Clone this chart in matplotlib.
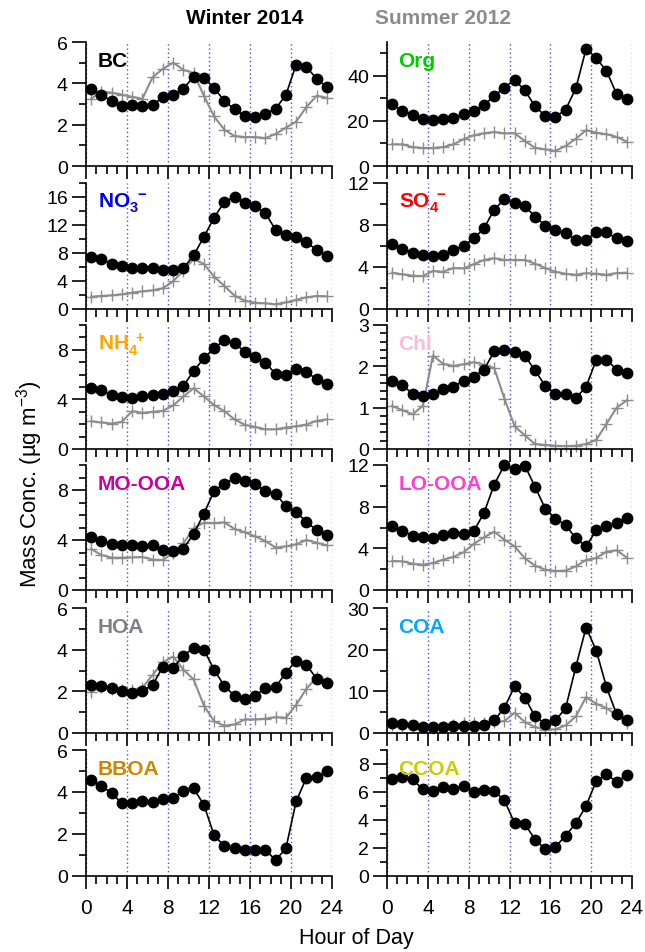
import numpy as np
import matplotlib
matplotlib.use('Agg')
import matplotlib.pyplot as plt
from matplotlib.ticker import MultipleLocator

plt.rcParams['font.family'] = 'Liberation Sans'
plt.rcParams['mathtext.fontset'] = 'custom'
plt.rcParams['mathtext.rm'] = 'Liberation Sans'
plt.rcParams['mathtext.bf'] = 'Liberation Sans:bold'

hours = np.arange(0.5, 24, 1.0)

# winter 2014 (black) and summer 2012 (grey) diurnal cycles
bc_w = [3.71, 3.44, 3.15, 2.89, 2.94, 2.9, 2.94, 3.34, 3.44, 3.74, 4.32, 4.26,
        3.77, 3.15, 2.74, 2.42, 2.39, 2.53, 2.77, 3.44, 4.9, 4.79, 4.23, 3.81]
bc_s = [3.25, 3.6, 3.55, 3.45, 3.35, 3.25, 4.3, 4.7, 5.0, 4.65, 4.5, 3.4,
        2.4, 1.75, 1.45, 1.4, 1.4, 1.35, 1.55, 1.85, 2.15, 2.85, 3.4, 3.3]
org_w = [27.3, 24.6, 22.8, 21.0, 20.3, 20.7, 21.5, 23.1, 24.3, 27.0, 31.1, 34.8,
         38.2, 33.5, 26.5, 22.2, 21.8, 25.0, 34.5, 51.9, 47.9, 42.1, 31.9, 29.6]
org_s = [9.6, 9.6, 8.4, 8.0, 8.0, 8.4, 9.6, 11.9, 13.6, 14.5, 15.1, 14.5,
         14.5, 11.1, 8.1, 7.4, 6.7, 8.9, 12.1, 15.9, 14.8, 14.1, 12.9, 10.8]
no3_w = [7.38, 7.1, 6.48, 6.1, 5.8, 5.9, 5.8, 5.57, 5.57, 5.8, 7.67, 10.3,
         13.05, 15.3, 16.0, 15.2, 14.7, 13.7, 11.3, 10.6, 10.3, 9.57, 8.43, 7.62]
no3_s = [1.76, 1.86, 1.95, 2.1, 2.33, 2.52, 2.67, 2.95, 3.95, 5.48, 7.14, 6.43,
         4.62, 3.29, 1.9, 1.19, 0.9, 0.81, 0.67, 0.95, 1.29, 1.67, 1.86, 1.81]
so4_w = [6.18, 5.76, 5.38, 5.12, 5.02, 5.18, 5.6, 6.02, 6.72, 7.68, 9.47, 10.43,
         10.1, 9.8, 8.8, 7.94, 7.52, 7.2, 6.56, 6.59, 7.3, 7.3, 6.72, 6.5]
so4_s = [3.46, 3.3, 3.17, 3.14, 3.62, 3.55, 3.9, 3.87, 4.26, 4.67, 4.83, 4.67,
         4.67, 4.67, 4.32, 3.9, 3.55, 3.36, 3.26, 3.42, 3.36, 3.26, 3.42, 3.46]
nh4_w = [4.95, 4.73, 4.32, 4.16, 4.08, 4.24, 4.32, 4.46, 4.7, 5.08, 6.3, 7.3,
         8.14, 8.76, 8.54, 7.84, 7.43, 6.97, 6.05, 6.0, 6.49, 6.22, 5.62, 5.22]
nh4_s = [2.24, 2.14, 2.05, 2.19, 3.05, 2.92, 3.0, 3.08, 3.51, 4.24, 4.89, 4.24,
         3.54, 3.05, 2.38, 1.95, 1.78, 1.59, 1.59, 1.73, 1.84, 1.97, 2.27, 2.38]
chl_w = [1.65, 1.54, 1.34, 1.29, 1.32, 1.45, 1.51, 1.65, 1.75, 1.92, 2.36, 2.39,
         2.35, 2.26, 1.9, 1.53, 1.34, 1.32, 1.24, 1.5, 2.16, 2.16, 1.92, 1.85]
chl_s = [1.04, 0.94, 0.84, 1.04, 2.26, 2.06, 2.01, 2.05, 2.1, 2.04, 1.96, 1.22,
         0.55, 0.33, 0.12, 0.1, 0.08, 0.07, 0.08, 0.12, 0.22, 0.61, 1.0, 1.18]
moooa_w = [4.24, 3.92, 3.71, 3.57, 3.6, 3.55, 3.6, 3.2, 3.09, 3.31, 4.48, 6.11,
           7.92, 8.51, 8.93, 8.72, 8.45, 7.92, 7.71, 6.69, 6.27, 5.44, 4.8, 4.37]
moooa_s = [3.28, 2.8, 2.59, 2.59, 2.61, 2.64, 2.43, 2.4, 2.96, 3.73, 4.93, 5.39,
           5.36, 5.41, 4.88, 4.61, 4.29, 3.92, 3.39, 3.49, 3.65, 4.0, 3.79, 3.57]
loooa_w = [6.18, 5.7, 5.22, 5.09, 5.02, 5.28, 5.44, 5.41, 5.66, 7.39, 10.11, 12.0,
           11.62, 11.94, 9.92, 7.81, 6.85, 6.24, 4.96, 4.19, 5.73, 6.18, 6.43, 6.88]
loooa_s = [2.78, 2.75, 2.53, 2.43, 2.59, 2.91, 3.17, 3.62, 4.42, 5.06, 5.6, 4.83,
           4.19, 3.04, 2.34, 1.95, 1.82, 1.86, 2.27, 2.88, 3.07, 3.68, 3.81, 3.1]
hoa_w = [2.31, 2.25, 2.15, 2.02, 1.93, 2.02, 2.31, 3.18, 3.12, 3.71, 4.08, 4.0,
         3.03, 2.26, 1.78, 1.63, 1.78, 2.17, 2.2, 2.9, 3.46, 3.28, 2.6, 2.41]
hoa_s = [1.96, 2.23, 2.12, 2.07, 2.07, 2.17, 2.79, 3.39, 3.67, 3.04, 2.57, 1.32,
         0.56, 0.35, 0.41, 0.65, 0.65, 0.69, 0.76, 0.73, 1.35, 2.12, 2.68, 2.44]
coa_w = [2.39, 2.07, 1.83, 1.43, 1.43, 1.43, 1.59, 1.59, 1.59, 1.83, 3.03, 6.06,
         11.2, 8.5, 3.98, 2.23, 3.03, 5.98, 15.9, 25.3, 19.8, 11.0, 4.46, 3.19]
coa_s = [1.9, 1.75, 1.6, 1.43, 1.27, 1.43, 1.83, 2.39, 2.39, 2.39, 2.55, 2.87,
         4.86, 2.63, 1.43, 0.8, 0.88, 1.83, 3.98, 8.6, 7.0, 5.98, 4.22, 2.39]
bboa_w = [4.57, 4.28, 3.95, 3.46, 3.46, 3.55, 3.54, 3.69, 3.71, 4.06, 4.17, 3.39,
          1.94, 1.42, 1.35, 1.24, 1.24, 1.24, 0.76, 1.31, 3.55, 4.67, 4.7, 4.98]
ccoa_w = [6.9, 7.09, 6.9, 6.2, 6.06, 6.35, 6.23, 6.44, 5.99, 6.13, 6.08, 5.41,
          3.77, 3.73, 2.6, 1.92, 2.09, 2.88, 3.77, 5.0, 6.8, 7.26, 6.73, 7.21]

labels = ['BC', 'Org', r'NO$\mathbf{_3^{\ -}}$', r'SO$\mathbf{_4^{\ -}}$', r'NH$\mathbf{_4^{\ +}}$', 'Chl',
          'MO-OOA', 'LO-OOA', 'HOA', 'COA', 'BBOA', 'CCOA']
label_colors = ['black', '#00cc00', '#0000ff', '#ff0000', '#ffa500', '#ffbbd4',
                '#cc00a0', '#ff40cc', '#808080', '#00aaff', '#cc8800', '#cccc00']
winter = [bc_w, org_w, no3_w, so4_w, nh4_w, chl_w, moooa_w, loooa_w, hoa_w, coa_w, bboa_w, ccoa_w]
summer = [bc_s, org_s, no3_s, so4_s, nh4_s, chl_s, moooa_s, loooa_s, hoa_s, coa_s, None, None]
ytops = [6, 55, 18, 12, 10, 3, 10, 12, 6, 30, 6, 9]
ymajor = [2, 20, 4, 4, 4, 1, 4, 4, 2, 10, 2, 2]
yminor = [1, 10, 2, 2, 1, 0.2, 1, 2, 1, 5, 1, 1]

W, H = 645, 953
fig = plt.figure(figsize=(W / 100, H / 100), dpi=100)

tops = [43, 184, 326, 466, 609, 751]
bots = [167, 310, 450, 591, 734, 877]
lefts = [86, 387]
widths = [246, 245]

gray = '#8c8c8c'
for i in range(12):
    r, c = divmod(i, 2)
    ax = fig.add_axes([lefts[c] / W, 1 - bots[r] / H, widths[c] / W, (bots[r] - tops[r]) / H])
    for xv in range(0, 25, 4):
        ax.axvline(xv, color='#4a4aff', ls=(0, (1, 2)), lw=1, zorder=0)
    if summer[i] is not None:
        ax.plot(hours, summer[i], color=gray, lw=1.5, marker='+', ms=9, mew=1, zorder=2, clip_on=False)
    ax.plot(hours, winter[i], color='black', lw=1.2, marker='o', ms=7.5, zorder=3, clip_on=False)
    ax.set_xlim(0, 24)
    ax.set_ylim(0, ytops[i])
    ax.xaxis.set_major_locator(MultipleLocator(4))
    ax.xaxis.set_minor_locator(MultipleLocator(1))
    ax.yaxis.set_major_locator(MultipleLocator(ymajor[i]))
    ax.yaxis.set_minor_locator(MultipleLocator(yminor[i]))
    for s in ['top', 'right']:
        ax.spines[s].set_visible(False)
    for s in ['left', 'bottom']:
        ax.spines[s].set_linewidth(1.2)
    ax.tick_params(axis='y', which='major', direction='out', length=10, width=1.2, labelsize=14, pad=3)
    ax.tick_params(axis='y', which='minor', direction='out', length=5, width=1.2)
    ax.tick_params(axis='x', which='major', direction='out', length=9.5, width=1.2, labelsize=15, pad=6)
    ax.tick_params(axis='x', which='minor', direction='out', length=5.5, width=1.2)
    if r < 5:
        ax.tick_params(axis='x', labelbottom=False)
    ax.text(0.047, 0.85, labels[i], transform=ax.transAxes, color=label_colors[i],
            fontsize=15, fontweight='bold', va='center', ha='left', zorder=4)

fig.text(245 / W, 1 - 19 / H, 'Winter 2014', fontsize=15, fontweight='bold', ha='center', va='center')
fig.text(443 / W, 1 - 19 / H, 'Summer 2012', fontsize=15, fontweight='bold', color=gray,
         ha='center', va='center')
fig.text(356 / W, 1 - 939 / H, 'Hour of Day', fontsize=15.5, ha='center', va='center')
fig.text(30 / W, 1 - 484 / H, 'Mass Conc. (µg m$^{-3}$)', fontsize=16, rotation=90,
         ha='center', va='center')

fig.savefig('out.png', dpi=100)
